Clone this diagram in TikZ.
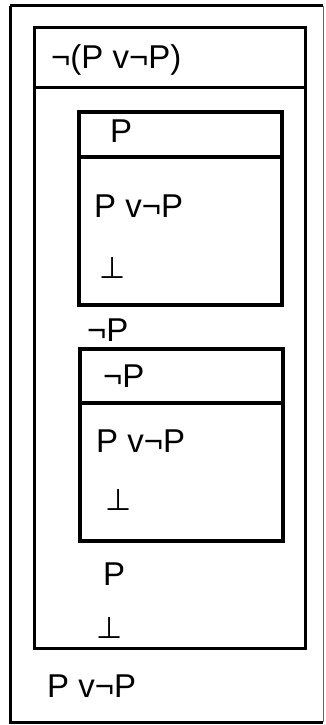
\documentclass[tikz,border=0pt]{standalone}
\usepackage{fontspec}
\setmainfont{Liberation Sans}
\newfontfamily\dejavu{DejaVu Sans}
\begin{document}
\begin{tikzpicture}[x=1pt,y=-1pt,
  frame/.style={draw=black,line width=3pt},
  inner/.style={draw=black,line width=3.6pt},
  txt/.style={anchor=base west,inner sep=0pt,font=\fontsize{33}{33}\selectfont},
  bot/.style={anchor=base west,inner sep=0pt,font=\dejavu\fontsize{30}{30}\selectfont}]
\useasboundingbox[fill=white] (0,0) rectangle (325,725);
% outer box
\draw[frame] (10,6) -- (323,6);
\draw[frame] (10,6) -- (10,722) -- (323,722);
\draw[draw=black!60,line width=1.2pt] (323.5,6) -- (323.5,722);
% assumption box
\draw[frame] (34,28) rectangle (305,648);
\draw[frame] (34,87) -- (305,87);
\node[txt] (h0) at (51,68) {¬(P v¬P)};
% subproof 1
\draw[inner] (79,112) rectangle (282,305);
\draw[inner] (79,157) -- (282,157);
\node[txt] (h1) at (110,142) {P};
\node[txt] (a1) at (94,217) {P v¬P};
\node[bot] (b1) at (99,278) {⊥};
\node[txt] (n1) at (87,341) {¬P};
% subproof 2
\draw[inner] (80,349) rectangle (283,541);
\draw[inner] (80,403) -- (283,403);
\node[txt] (h2) at (103,387) {¬P};
\node[txt] (a2) at (96,452) {P v¬P};
\node[bot] (b2) at (105,510) {⊥};
\node[txt] (p3) at (103,585) {P};
\node[bot] (b3) at (96,638) {⊥};
\node[txt] (c) at (47,697) {P v¬P};
\end{tikzpicture}
\end{document}
